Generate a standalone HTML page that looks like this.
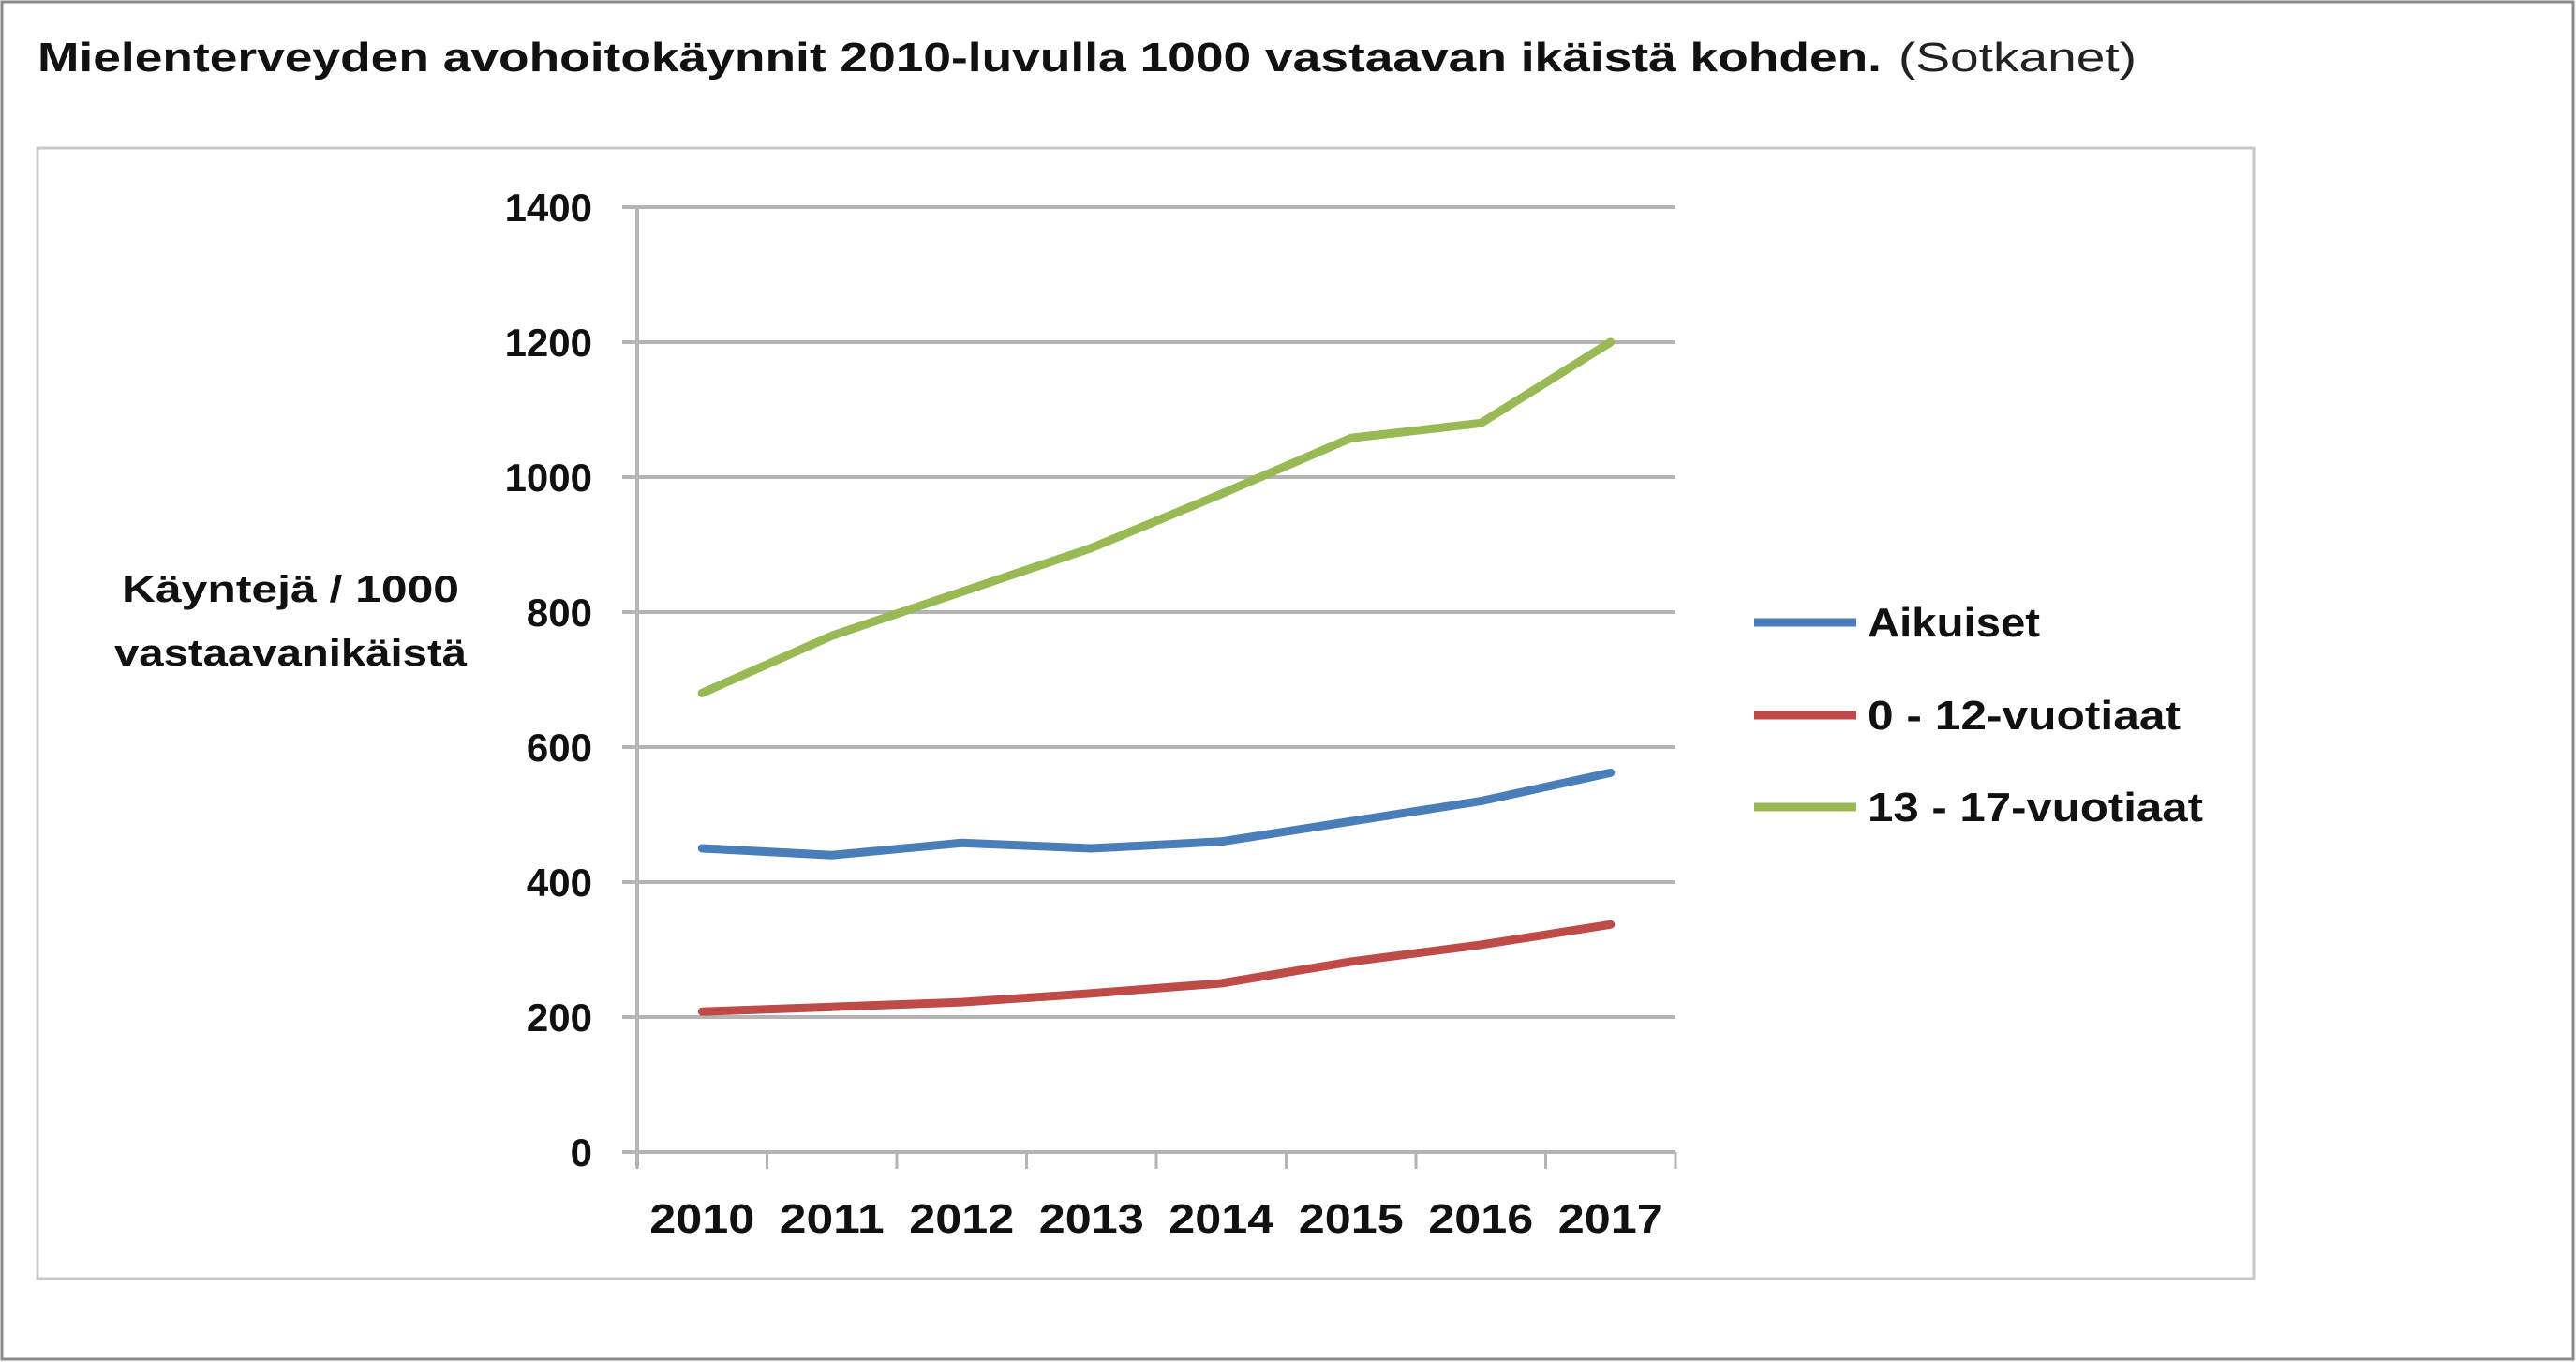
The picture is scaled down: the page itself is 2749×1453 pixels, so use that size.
<!DOCTYPE html>
<html><head><meta charset="utf-8"><style>
html,body{margin:0;padding:0;background:#fff;}
svg{display:block;font-family:"Liberation Sans",sans-serif;}
</style></head><body>
<svg id="chart" width="2749" height="1453" viewBox="0 0 2749 1453" xmlns="http://www.w3.org/2000/svg">
<rect x="2" y="2" width="2744" height="1448" fill="#fff" stroke="#8a8a8a" stroke-width="3"/>
<text x="40" y="76" font-size="44" font-weight="bold" fill="#111" textLength="1968" lengthAdjust="spacingAndGlyphs">Mielenterveyden avohoitokäynnit 2010-luvulla 1000 vastaavan ikäistä kohden.</text>
<text x="2026" y="76" font-size="44" fill="#222" textLength="254" lengthAdjust="spacingAndGlyphs">(Sotkanet)</text>
<rect x="40" y="158" width="2365" height="1206" fill="#fff" stroke="#c8c8c8" stroke-width="3"/>
<g id="grid"></g><g id="axes"></g><g id="series"></g>
<text x="310" y="642" font-size="40" font-weight="bold" fill="#111" text-anchor="middle" textLength="360" lengthAdjust="spacingAndGlyphs">Käyntejä / 1000</text>
<text x="310" y="710" font-size="40" font-weight="bold" fill="#111" text-anchor="middle" textLength="376" lengthAdjust="spacingAndGlyphs">vastaavanikäistä</text>
<g id="legend"></g>
</svg>
<script>
const categories=["2010","2011","2012","2013","2014","2015","2016","2017"];
const aikuiset=[450,440,458,450,460,490,520,562];
const lapset=[208,215,222,235,250,282,307,337];
const nuoret=[680,765,830,895,975,1058,1080,1200];
const yTicks=[0,200,400,600,800,1000,1200,1400];
const seriesNames=["Aikuiset","0 - 12-vuotiaat","13 - 17-vuotiaat"];
const NS="http://www.w3.org/2000/svg";
const X0=680,X1=1788,Y0=1229,Y1=221,YMAX=1400;
const bw=(X1-X0)/categories.length;
function xs(i){return X0+bw*(i+0.5);}
function ys(v){return Y0-(v/YMAX)*(Y0-Y1);}
function mk(tag,attrs,parent){const e=document.createElementNS(NS,tag);for(const k in attrs)e.setAttribute(k,attrs[k]);parent.appendChild(e);return e;}
const grid=document.getElementById('grid'),axes=document.getElementById('axes'),series=document.getElementById('series'),legend=document.getElementById('legend');
yTicks.forEach(t=>{
 const l=mk('line',{x1:X0-16,x2:X1,y1:ys(t),y2:ys(t),stroke:'#b4b4b4','stroke-width':4},grid);
 
 
 const tx=mk('text',{x:632,y:ys(t)+15,'font-size':42,'font-weight':'bold','text-anchor':'end',fill:'#111'},axes);
 tx.textContent=String(t);
 
 
});
const ya=mk('line',{x1:X0,x2:X0,y1:Y1,y2:Y0+16,stroke:'#b4b4b4','stroke-width':4},axes);


for(let i=0;i<=categories.length;i++){
 const tk=mk('line',{x1:X0+bw*i,x2:X0+bw*i,y1:Y0,y2:Y0+18,stroke:'#b4b4b4','stroke-width':3},axes);
 
 
}
categories.forEach((c,i)=>{
 const t=mk('text',{x:xs(i),y:1315,'font-size':44,'font-weight':'bold','text-anchor':'middle',fill:'#111',textLength:112,lengthAdjust:'spacingAndGlyphs'},axes);
 t.textContent=c;
 
 
});
const data=[aikuiset,lapset,nuoret];
const colors=["#4a7ebb","#be4b48","#98b954"];
const ids=["aikuiset","0-12","13-17"];
data.forEach((arr,s)=>{
 const p=mk('polyline',{points:arr.map((v,i)=>xs(i)+','+ys(v)).join(' '),fill:'none',stroke:colors[s],'stroke-width':9,'stroke-linejoin':'round','stroke-linecap':'round'},series);
 
 
});
const ly=[664,763,861];
const lw=[184,334,358];
seriesNames.forEach((n,s)=>{
 const l=mk('line',{x1:1872,x2:1981,y1:ly[s],y2:ly[s],stroke:colors[s],'stroke-width':9},legend);
 
 
 const t=mk('text',{x:1993,y:ly[s]+15,'font-size':44,'font-weight':'bold',fill:'#111',textLength:lw[s],lengthAdjust:'spacingAndGlyphs'},legend);
 t.textContent=n;
 
 
});
</script>
</body></html>
